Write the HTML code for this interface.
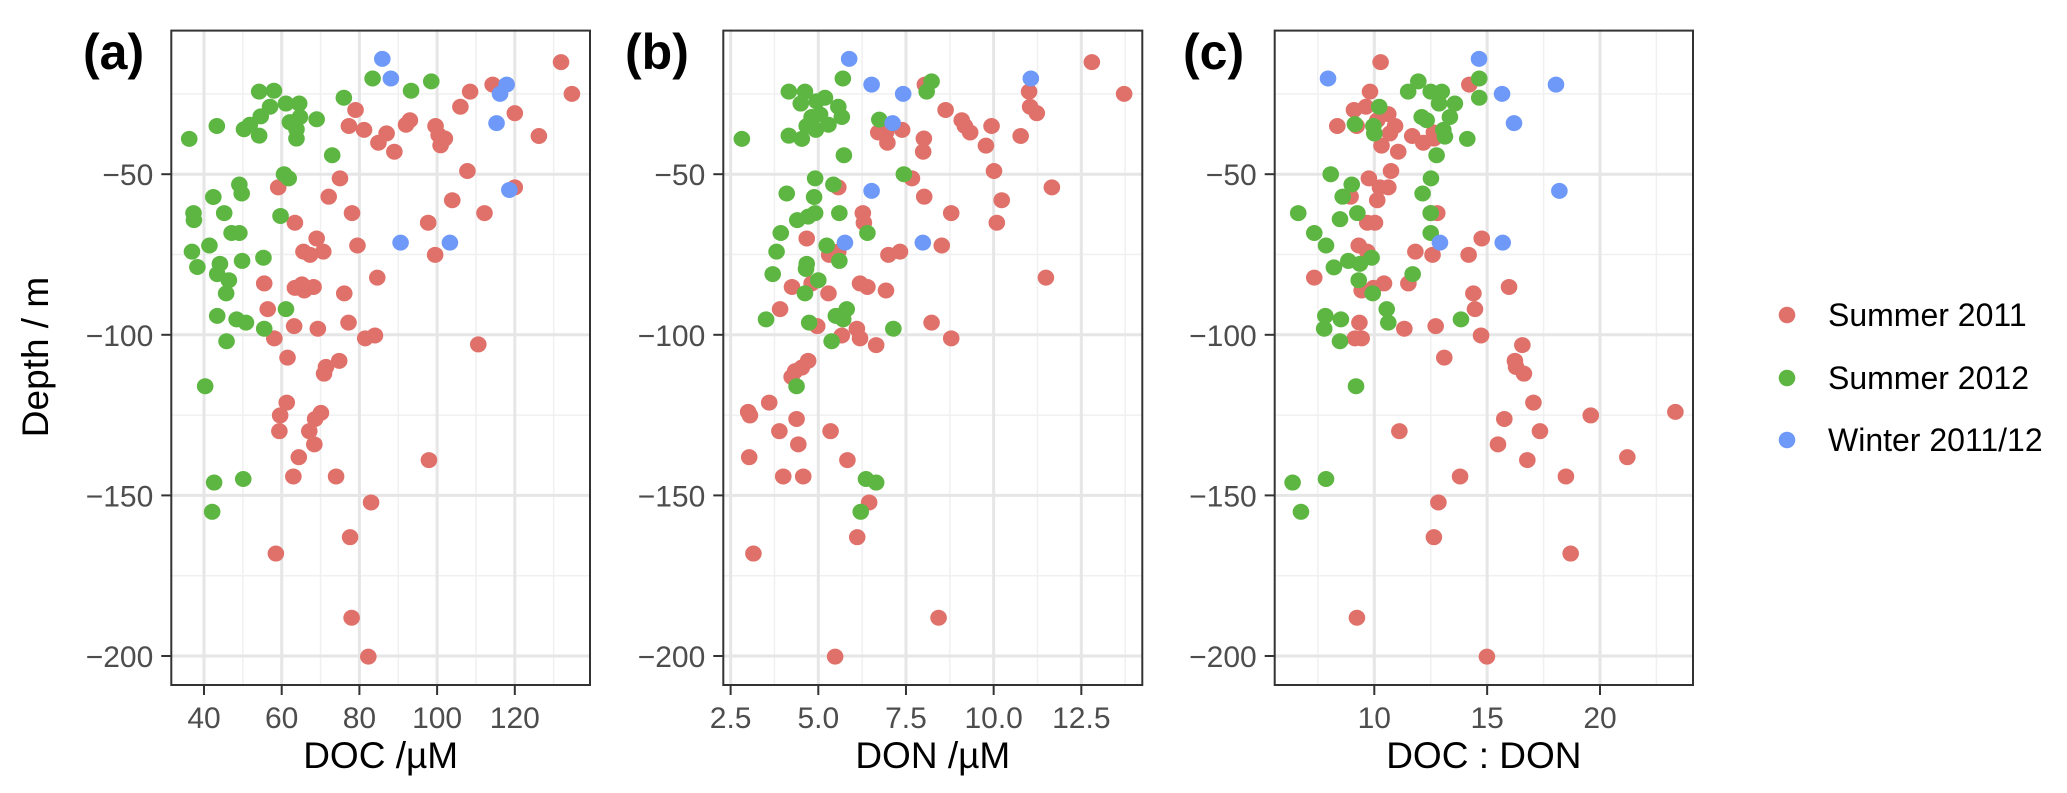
<!DOCTYPE html>
<html><head><meta charset="utf-8"><style>
html,body{margin:0;padding:0;background:#fff;}
svg{display:block;font-family:"Liberation Sans",Arial,sans-serif;}
</style></head><body>
<svg id="chart" width="2067" height="793" viewBox="0 0 2067 793" xmlns="http://www.w3.org/2000/svg"></svg>
<script>
// ---- data (x value, depth m) ----
const seriesNames = ["Summer 2011","Summer 2012","Winter 2011/12"];
const seriesColors = ["#E0716A","#5DB642","#6E99F8"];
const yTicks = [-50,-100,-150,-200];
const yTickLabels = ["\u221250","\u2212100","\u2212150","\u2212200"];

const aTicks = [40,60,80,100,120];
const aTickLabels = ["40","60","80","100","120"];
const bTicks = [2.5,5,7.5,10,12.5];
const bTickLabels = ["2.5","5.0","7.5","10.0","12.5"];
const cTicks = [10,15,20];
const cTickLabels = ["10","15","20"];

const aS11 = [[79,-30],[77.3,-35],[81.2,-36.2],[84.9,-40.2],[87,-37.3],[89,-43],[92,-34.6],[93,-33.2],[99.6,-35],[100.4,-37.8],[102,-38.9],[100.9,-41],[106,-29],[75,-51.3],[59.1,-54.1],[72.1,-57],[103.9,-58.1],[78.1,-62.1],[63.4,-65.1],[97.7,-65.1],[69,-70],[65.6,-74.1],[67.3,-75.1],[70.7,-74.1],[79.5,-72.2],[99.5,-75.1],[84.6,-82.2],[55.5,-84],[63.4,-85.4],[65.2,-84.3],[65.8,-86.2],[68.2,-85.1],[76.1,-87.1],[56.4,-92],[63.2,-97.3],[69.3,-98.1],[77.2,-96.2],[58.1,-101.1],[81.5,-101.1],[84,-100.2],[61.5,-107.1],[74.8,-108.1],[71.4,-110],[70.9,-112.1],[61.3,-121.1],[59.6,-125.1],[59.4,-130],[70.1,-124.3],[68.6,-126.2],[67.1,-130],[68.4,-134.1],[64.4,-138.1],[63,-144.1],[74,-144.1],[97.9,-139],[83,-152.2],[77.6,-163],[58.5,-168.1],[78,-188.1],[82.3,-200.2],[131.9,-15.1],[134.7,-25],[108.5,-24.3],[114.3,-22.1],[120,-31],[126.2,-38.1],[107.8,-49],[120,-54.1],[112.2,-62.1],[110.6,-103]];
const aS12 = [[36.2,-39],[43.3,-35],[54.2,-24.3],[58,-24],[61.1,-28],[64.5,-28],[57,-29],[54.6,-32],[51.8,-34.6],[50.3,-36],[54.2,-38],[62.1,-33.8],[64.7,-32.2],[63.8,-36],[63.8,-38.9],[69,-32.9],[76,-26.2],[83.4,-20.2],[93.3,-24],[98.5,-21.1],[73,-44.1],[60.6,-50],[61.8,-51.3],[49.1,-53.2],[49.7,-56],[42.4,-57.1],[37.3,-62.1],[37.4,-64.3],[45.2,-62.1],[59.7,-63],[47.1,-68.3],[49.1,-68.3],[41.4,-72.2],[36.9,-74.1],[38.3,-78.9],[44.1,-77.9],[43.4,-81.1],[46.4,-83],[45.7,-87.1],[49.8,-77],[55.3,-76],[61.1,-92],[43.4,-94.1],[48.4,-95.2],[50.8,-96.2],[55.5,-98.1],[45.8,-102],[40.3,-116],[42.6,-146],[50.1,-144.9],[42.1,-155.1]];
const aW = [[85.9,-14.1],[88.1,-20.2],[90.6,-71.3],[103.3,-71.3],[117.9,-22.1],[116.2,-25],[115.3,-34.1],[118.6,-54.9]];

const bS11 = [[5.57,-54.1],[6.27,-62.1],[6.3,-65.1],[4.67,-70],[5.31,-75.1],[5.57,-74.1],[6.19,-84],[6.4,-85.1],[4.25,-85.1],[4.81,-84],[5.29,-87.1],[3.91,-92],[4.97,-97.3],[5.67,-100.2],[6.1,-98.1],[6.19,-101.1],[6.65,-103.2],[4.71,-108.1],[4.53,-110.2],[4.34,-111.3],[4.24,-113.1],[3.6,-121.1],[3.0,-124],[3.05,-125.1],[4.38,-126.2],[3.89,-130],[5.35,-130],[4.43,-134.1],[3.03,-138.1],[5.83,-139],[4.0,-144.1],[4.57,-144.1],[6.45,-152.2],[6.11,-163],[3.15,-168.1],[5.48,-200.2],[6.71,-37],[12.8,-15.1],[13.72,-25],[8.04,-22.1],[8.63,-30],[9.09,-33.2],[9.18,-35],[9.33,-37],[9.94,-35],[9.78,-41.1],[10.77,-38.1],[11.01,-24.3],[11.04,-29],[11.23,-31],[7.39,-36.2],[6.93,-37],[6.97,-40.2],[8.01,-38.9],[7.99,-43],[7.67,-51.3],[10.01,-49],[11.66,-54.1],[8.02,-57],[10.23,-58.1],[8.79,-62.1],[10.09,-65.1],[8.52,-72.2],[7.33,-74.1],[7.0,-75.1],[6.93,-86.2],[11.49,-82.2],[8.23,-96.2],[8.79,-101.1],[8.43,-188.1]];
const bS12 = [[2.82,-39],[4.16,-24.3],[4.62,-24.3],[4.5,-28],[4.95,-27.3],[5.19,-26.2],[4.81,-32.2],[5.05,-31.4],[5.29,-34.6],[5.57,-29],[5.67,-32.2],[4.67,-35],[4.93,-36.2],[4.16,-38],[4.53,-39],[5.7,-20.2],[5.73,-44.1],[4.91,-51.3],[5.43,-53.2],[4.1,-56],[4.88,-57.1],[5.6,-62.1],[4.91,-62.1],[4.71,-63.2],[4.4,-64.3],[6.4,-68.3],[3.93,-68.3],[5.24,-72.2],[3.81,-74.1],[5.6,-77],[4.67,-77.9],[4.65,-79.5],[3.7,-81.1],[5.0,-83],[4.62,-87.1],[5.81,-92],[5.5,-94.1],[5.71,-95.2],[3.51,-95.2],[4.74,-96.2],[5.38,-102],[4.38,-116],[6.36,-144.9],[6.65,-146],[6.21,-155.1],[6.74,-33],[8.23,-21.1],[8.09,-24.3],[7.44,-50],[7.14,-98.1]];
const bW = [[5.88,-14.1],[6.52,-22.1],[6.52,-55.2],[5.76,-71.3],[7.42,-25],[7.12,-34.1],[7.98,-71.3],[11.06,-20.2]];

const cS11 = [[10.28,-15.1],[14.21,-22.1],[9.81,-24.3],[9.63,-29],[9.1,-30],[8.36,-35],[9.22,-35],[10.13,-33.2],[10.62,-31.3],[10.92,-35],[10.69,-37.3],[10.32,-41.1],[11.06,-43],[11.68,-38.1],[12.17,-40.2],[12.64,-37],[12.64,-38.9],[10.74,-49],[9.76,-51.3],[10.25,-54.1],[10.62,-54.1],[8.95,-57],[10.13,-58.1],[12.5,-62.1],[12.79,-62.1],[9.69,-65.1],[10.03,-65.1],[14.76,-70],[9.31,-72.2],[9.69,-74.1],[11.82,-74.1],[12.58,-75.1],[14.18,-75.1],[7.34,-82.2],[10.43,-84],[9.96,-85.4],[9.44,-86.2],[11.51,-84],[15.97,-85.1],[14.39,-87.1],[14.46,-92],[9.34,-96.2],[11.33,-98.1],[12.72,-97.3],[9.14,-101.1],[9.44,-101.1],[14.73,-100.2],[16.56,-103.2],[13.1,-107.1],[16.23,-108.1],[16.28,-110],[16.63,-112.1],[17.05,-121.1],[15.76,-126.2],[19.59,-125.1],[23.34,-124],[11.11,-130],[17.34,-130],[15.48,-134.1],[16.78,-139],[21.21,-138.1],[13.8,-144.1],[18.49,-144.1],[12.84,-152.2],[12.64,-163],[18.7,-168.1],[9.23,-188.1],[14.99,-200.2]];
const cS12 = [[6.63,-62.1],[7.34,-68.3],[7.86,-72.2],[8.07,-50],[8.21,-79],[7.83,-94.1],[7.78,-98.1],[8.52,-95.2],[8.48,-102],[8.48,-64],[8.6,-57],[9.0,-53.2],[9.25,-62.1],[8.85,-77],[9.36,-77.9],[9.31,-83],[9.88,-76],[9.93,-87.1],[10.55,-92],[10.62,-96.2],[11.7,-81.1],[9.19,-116],[6.38,-146],[7.86,-144.9],[6.75,-155.1],[9.96,-35],[10.22,-29],[9.14,-34.4],[11.5,-24.3],[11.95,-21.1],[12.5,-24.3],[12.99,-24.3],[12.87,-28],[13.57,-28],[13.35,-32.2],[12.1,-32.2],[12.32,-33.2],[13.06,-36.2],[13.13,-38.3],[12.76,-44.1],[14.12,-39],[14.65,-20.2],[14.65,-26.2],[12.51,-51.3],[12.14,-56],[12.5,-62.1],[12.5,-68.3],[13.84,-95.2],[10,-37.3]];
const cW = [[7.95,-20.2],[14.64,-14.1],[15.66,-25],[16.19,-34.1],[18.05,-22.1],[18.2,-55.2],[12.91,-71.3],[15.69,-71.3]];

// ---- layout ----
const NS = "http://www.w3.org/2000/svg";
const svg = document.getElementById("chart");
const TOP = 30.6, BOT = 685;
function yScale(d){ return 13.6 + (-d) * 3.212; }
const yMinorTicks = [-25,-75,-125,-175];

function mk(tag, attrs, parent){
  const e = document.createElementNS(NS, tag);
  for (const k in attrs) e.setAttribute(k, attrs[k]);
  (parent || svg).appendChild(e);
  return e;
}

function panel(cfg){
  const g = mk("g", {});
  
  
  const xs = v => cfg.x0px + (v - cfg.x0) * cfg.pxPer;
  const L = cfg.left, R = cfg.right;
  yMinorTicks.forEach(t => {
    const l = mk("line", {x1:L, x2:R, y1:yScale(t), y2:yScale(t), stroke:"#f0f0f0", "stroke-width":1.5}, g);
    
    
  });
  cfg.minor.forEach(t => {
    const l = mk("line", {x1:xs(t), x2:xs(t), y1:TOP, y2:BOT, stroke:"#f0f0f0", "stroke-width":1.5}, g);
    
    
  });
  yTicks.forEach(t => {
    const l = mk("line", {x1:L, x2:R, y1:yScale(t), y2:yScale(t), stroke:"#e6e6e6", "stroke-width":3}, g);
    
    
  });
  cfg.ticks.forEach(t => {
    const l = mk("line", {x1:xs(t), x2:xs(t), y1:TOP, y2:BOT, stroke:"#e6e6e6", "stroke-width":3}, g);
    
    
  });
  [cfg.s11, cfg.s12, cfg.w].forEach((arr, si) => {
    arr.forEach(p => {
      const c = mk("ellipse", {cx:xs(p[0]), cy:yScale(p[1]), rx:8.3, ry:8, fill:seriesColors[si]}, g);
      
      
    });
  });
  const f = mk("rect", {x:L, y:TOP, width:R-L, height:BOT-TOP, fill:"none", stroke:"#333", "stroke-width":2}, g);
  
  
  yTicks.forEach((t,i) => {
    const tk = mk("line", {x1:L-10, x2:L, y1:yScale(t), y2:yScale(t), stroke:"#333", "stroke-width":2}, g);
    
    
    const tx = mk("text", {x:L-18, y:yScale(t)+11, "text-anchor":"end", "font-size":30, fill:"#4d4d4d"}, g);
    tx.textContent = yTickLabels[i];
    
    
  });
  cfg.ticks.forEach((t,i) => {
    const tk = mk("line", {x1:xs(t), x2:xs(t), y1:BOT, y2:BOT+10, stroke:"#333", "stroke-width":2}, g);
    
    
    const tx = mk("text", {x:xs(t), y:728, "text-anchor":"middle", "font-size":30, fill:"#4d4d4d"}, g);
    tx.textContent = cfg.labels[i];
    
    
  });
  const xt = mk("text", {x:(L+R)/2, y:768, "text-anchor":"middle", "font-size":37, fill:"#000"}, g);
  xt.textContent = cfg.title;
  
  
  const tag = mk("text", {x:cfg.tagX, y:69, "font-size":50, "font-weight":"bold", fill:"#000"}, g);
  tag.textContent = cfg.tag;
  
  
}

panel({name:"panel-a-doc", left:171.3, right:590, x0:40, x0px:204, pxPer:3.885,
  ticks:aTicks, labels:aTickLabels, minor:[50,70,90,110,130],
  s11:aS11, s12:aS12, w:aW, title:"DOC /\u00b5M", tag:"(a)", tagX:83});
panel({name:"panel-b-don", left:723.3, right:1142.3, x0:5, x0px:818.3, pxPer:35.07,
  ticks:bTicks, labels:bTickLabels, minor:[3.75,6.25,8.75,11.25,13.75],
  s11:bS11, s12:bS12, w:bW, title:"DON /\u00b5M", tag:"(b)", tagX:625});
panel({name:"panel-c-ratio", left:1274.7, right:1693, x0:10, x0px:1374.3, pxPer:22.57,
  ticks:cTicks, labels:cTickLabels, minor:[7.5,12.5,17.5,22.5],
  s11:cS11, s12:cS12, w:cW, title:"DOC : DON", tag:"(c)", tagX:1183});

const yt = mk("text", {x:0, y:0, "text-anchor":"middle", "font-size":37, fill:"#000", transform:"translate(48,357) rotate(-90)"});
yt.textContent = "Depth / m";



const legendY = [315, 378, 440];
seriesNames.forEach((n,i) => {
  const c = mk("circle", {cx:1787, cy:legendY[i], r:8.3, fill:seriesColors[i]});
  
  
  const t = mk("text", {x:1828, y:legendY[i]+11, "font-size":32, fill:"#000"});
  t.textContent = n;
  
  
});
</script>
</body></html>
